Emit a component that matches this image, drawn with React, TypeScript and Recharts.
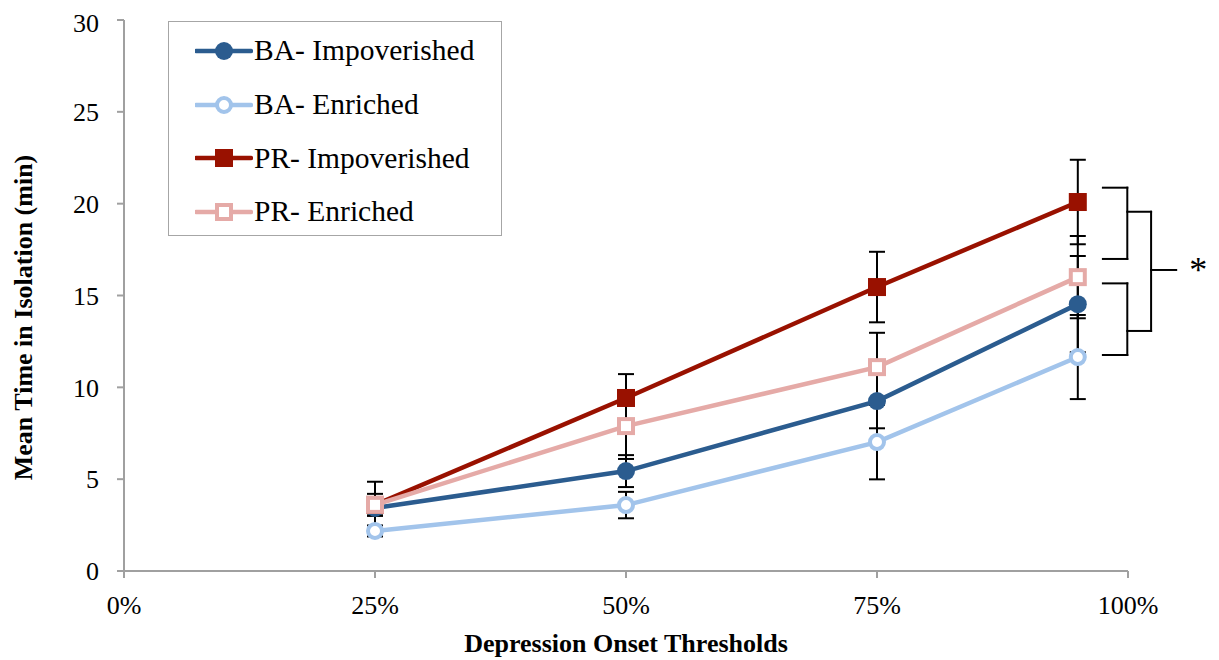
import React from "react";
import {
  LineChart,
  Line,
  XAxis,
  YAxis,
  ErrorBar,
  Legend,
  ReferenceLine,
  ReferenceDot,
  Label,
} from "recharts";

const FONT = '"Liberation Serif", "Times New Roman", serif';

// depression onset thresholds (%)
const thresholds = [25, 50, 75, 95];

// mean time in isolation (min)
const baImpoverished = [3.43, 5.44, 9.25, 14.53];
const baEnriched = [2.18, 3.59, 7.02, 11.65];
const prImpoverished = [3.6, 9.42, 15.46, 20.09];
const prEnriched = [3.6, 7.89, 11.1, 16.0];

// error bar half-lengths
const baImpoverishedErr = [0.4, 0.87, 1.48, 2.62];
const baEnrichedErr = [0.3, 0.72, 2.03, 2.29];
const prImpoverishedErr = [1.26, 1.3, 1.92, 2.3];
const prEnrichedErr = [0.6, 1.79, 1.87, 2.24];

const xTicks = [0, 25, 50, 75, 100];
const yTicks = [0, 5, 10, 15, 20, 25, 30];

// significance braces, in chart units (threshold %, minutes)
const braces = [
  [[97.5, 20.87], [99.93, 20.87], [99.93, 16.99], [97.5, 16.99]],
  [[97.5, 15.66], [99.93, 15.66], [99.93, 11.76], [97.5, 11.76]],
  [[99.93, 19.56], [102.3, 19.56], [102.3, 13.07], [99.93, 13.07]],
  [[102.3, 16.39], [104.8, 16.39]],
];
const starPoint = { x: 107, y: 16.66 };

const data = thresholds.map((t, i) => ({
  t,
  baImp: baImpoverished[i],
  baEnr: baEnriched[i],
  prImp: prImpoverished[i],
  prEnr: prEnriched[i],
  baImpErr: baImpoverishedErr[i],
  baEnrErr: baEnrichedErr[i],
  prImpErr: prImpoverishedErr[i],
  prEnrErr: prEnrichedErr[i],
}));

type Marker = "circle" | "openCircle" | "square" | "openSquare";

const series: { key: string; err: string; name: string; color: string; marker: Marker }[] = [
  { key: "baImp", err: "baImpErr", name: "BA- Impoverished", color: "#2b5c8f", marker: "circle" },
  { key: "baEnr", err: "baEnrErr", name: "BA- Enriched", color: "#a2c4eb", marker: "openCircle" },
  { key: "prImp", err: "prImpErr", name: "PR- Impoverished", color: "#991100", marker: "square" },
  { key: "prEnr", err: "prEnrErr", name: "PR- Enriched", color: "#e5aaa7", marker: "openSquare" },
];

function drawMarker(marker: Marker, color: string, cx: number, cy: number, key?: string | number) {
  switch (marker) {
    case "circle":
      return <circle key={key} cx={cx} cy={cy} r={9} fill={color} />;
    case "openCircle":
      return <circle key={key} cx={cx} cy={cy} r={7} fill="#fff" stroke={color} strokeWidth={4} />;
    case "square":
      return <rect key={key} x={cx - 9} y={cy - 9} width={18} height={18} fill={color} />;
    default:
      return (
        <rect key={key} x={cx - 7} y={cy - 7} width={14} height={14} fill="#fff" stroke={color} strokeWidth={4} />
      );
  }
}

function LegendBox() {
  return (
    <div
      style={{
        width: 334,
        height: 215,
        boxSizing: "border-box",
        border: "1.5px solid #a6a6a6",
        background: "#fff",
        fontFamily: FONT,
        fontSize: 29.5,
        color: "#000",
        paddingTop: 2,
      }}
    >
      {series.map((s) => (
        <div key={s.key} style={{ display: "flex", alignItems: "center", height: 53.7, paddingLeft: 26 }}>
          <svg width={58} height={22} style={{ marginRight: 1 }}>
            <line x1={1} y1={11} x2={56} y2={11} stroke={s.color} strokeWidth={4.5} strokeLinecap="round" />
            {drawMarker(s.marker, s.color, 29, 11)}
          </svg>
          <span>{s.name}</span>
        </div>
      ))}
    </div>
  );
}

const axisTick = { fill: "#000", fontSize: 26, fontFamily: FONT };
const axisLine = { stroke: "#a0a0a0", strokeWidth: 2 };

export default function App() {
  const segments: React.ReactNode[] = [];
  braces.forEach((pts, b) => {
    for (let i = 0; i < pts.length - 1; i++) {
      segments.push(
        <ReferenceLine
          key={`brace-${b}-${i}`}
          segment={[
            { x: pts[i][0], y: pts[i][1] },
            { x: pts[i + 1][0], y: pts[i + 1][1] },
          ]}
          stroke="#000"
          strokeWidth={2}
          strokeLinecap="square"
          ifOverflow="visible"
        />
      );
    }
  });

  return (
    <LineChart width={1211} height={652} data={data} margin={{ top: 12, right: 91, bottom: 0, left: 36 }}>
      <XAxis
        dataKey="t"
        type="number"
        domain={[0, 100]}
        ticks={xTicks}
        tickFormatter={(v) => `${v}%`}
        tick={axisTick}
        axisLine={axisLine}
        tickLine={axisLine}
        tickSize={7}
        tickMargin={18}
        height={89}
      >
        <Label
          content={({ viewBox }: any) => (
            <text
              x={viewBox.x + viewBox.width / 2}
              y={viewBox.y + 72}
              textAnchor="middle"
              dominantBaseline="central"
              fontFamily={FONT}
              fontSize={26}
              fontWeight="bold"
              fill="#000"
            >
              Depression Onset Thresholds
            </text>
          )}
        />
      </XAxis>
      <YAxis
        type="number"
        domain={[0, 30]}
        ticks={yTicks}
        tick={axisTick}
        axisLine={axisLine}
        tickLine={axisLine}
        tickSize={7}
        tickMargin={18}
        width={80}
      >
        <Label
          content={({ viewBox }: any) => {
            const cx = viewBox.x - 21;
            const cy = viewBox.y + viewBox.height / 2 + 22;
            return (
              <text
                x={cx}
                y={cy}
                transform={`rotate(-90 ${cx} ${cy})`}
                textAnchor="middle"
                dominantBaseline="central"
                fontFamily={FONT}
                fontSize={26}
                fontWeight="bold"
                fill="#000"
              >
                Mean Time in Isolation (min)
              </text>
            );
          }}
        />
      </YAxis>
      <Legend
        layout="horizontal"
        verticalAlign="middle"
        align="center"
        content={() => <LegendBox />}
        wrapperStyle={{ left: 160, top: 13, width: 334, height: 215 }}
      />
      {series.map((s) => (
        <Line
          key={s.key}
          dataKey={s.key}
          name={s.name}
          stroke={s.color}
          strokeWidth={4.5}
          isAnimationActive={false}
          activeDot={false}
          dot={(p: any) => drawMarker(s.marker, s.color, p.cx, p.cy, p.index)}
        >
          <ErrorBar
            dataKey={s.err}
            direction="y"
            width={8}
            stroke="#000"
            strokeWidth={2}
            isAnimationActive={false}
          />
        </Line>
      ))}
      {segments}
      <ReferenceDot
        x={starPoint.x}
        y={starPoint.y}
        r={0}
        fill="none"
        stroke="none"
        ifOverflow="visible"
        label={{ value: "*", position: "center", fontSize: 36, fill: "#000", fontFamily: FONT, dy: 4 }}
      />
    </LineChart>
  );
}
